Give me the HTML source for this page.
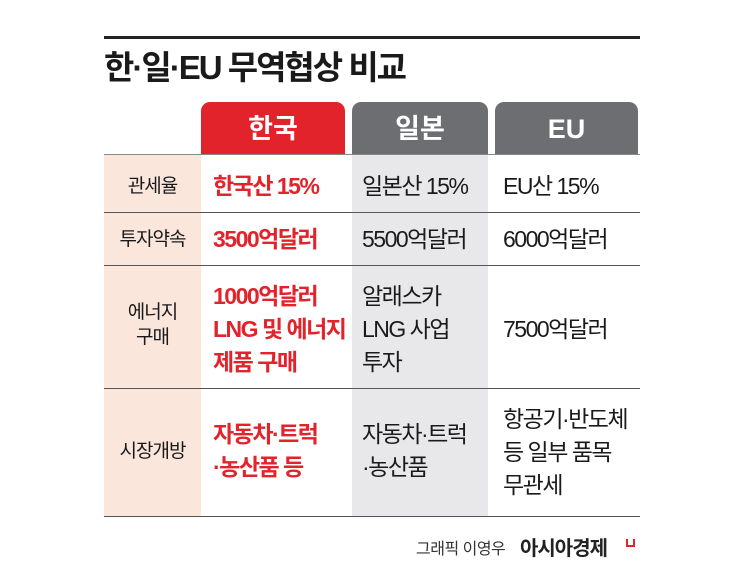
<!DOCTYPE html>
<html><head><meta charset="utf-8"><style>
body{margin:0;width:745px;height:588px;background:#fff;position:relative;overflow:hidden;font-family:"Liberation Sans","Noto Sans CJK KR",sans-serif;color:#1a1a1a}
.a{position:absolute}
.tab{position:absolute;top:102px;height:52px;border-radius:9px 9px 0 0;color:#fff;font-size:27px;font-weight:bold;text-align:center;line-height:54px}
.hl{position:absolute;left:104px;width:536px;height:1px;background:#555}
.t{position:absolute;font-size:23px;line-height:33px;letter-spacing:-1.5px;white-space:nowrap}
.r{color:#e3232b;font-weight:bold}
.lb{position:absolute;left:104px;width:97px;text-align:center;font-size:19px;line-height:25px;letter-spacing:-1px}
</style></head><body>
<div class="a" style="left:104px;top:36px;width:536px;height:3px;background:#222"></div>
<div class="a" style="left:104px;top:48px;font-size:33px;font-weight:bold;letter-spacing:-2px;line-height:40px">한·일·EU 무역협상 비교</div>
<div class="tab" style="left:201px;width:144px;background:#e3232b">한국</div>
<div class="tab" style="left:352px;width:136px;background:#6d6e71">일본</div>
<div class="tab" style="left:495px;width:143px;background:#6d6e71">EU</div>
<div class="a" style="left:104px;top:154px;width:97px;height:362px;background:#fbe6dc"></div>
<div class="a" style="left:352px;top:154px;width:136px;height:362px;background:#e8e8ea"></div>
<div class="hl" style="top:154px;background:#888"></div>
<div class="hl" style="top:212px"></div>
<div class="hl" style="top:265px"></div>
<div class="hl" style="top:388px"></div>
<div class="hl" style="top:516px"></div>

<div class="lb" style="top:174px">관세율</div>
<div class="lb" style="top:227px">투자약속</div>
<div class="lb" style="top:300px">에너지<br>구매</div>
<div class="lb" style="top:439px">시장개방</div>

<div class="t r" style="left:213px;top:170px">한국산 15%</div>
<div class="t" style="left:362px;top:170px">일본산 15%</div>
<div class="t" style="left:503px;top:170px">EU산 15%</div>
<div class="t r" style="left:213px;top:223px">3500억달러</div>
<div class="t" style="left:362px;top:223px">5500억달러</div>
<div class="t" style="left:503px;top:223px">6000억달러</div>
<div class="t r" style="left:213px;top:280px">1000억달러<br>LNG 및 에너지<br>제품 구매</div>
<div class="t" style="left:362px;top:280px">알래스카<br>LNG 사업<br>투자</div>
<div class="t" style="left:503px;top:313px">7500억달러</div>
<div class="t r" style="left:213px;top:418px">자동차·트럭<br>·농산품 등</div>
<div class="t" style="left:362px;top:418px">자동차·트럭<br>·농산품</div>
<div class="t" style="left:503px;top:403px">항공기·반도체<br>등 일부 품목<br>무관세</div>

<div class="a" style="left:416px;top:539px;font-size:16px;letter-spacing:-0.5px;line-height:22px;color:#333">그래픽 이영우</div>
<div class="a" style="left:520px;top:536px;font-size:20px;font-weight:bold;letter-spacing:-1px;line-height:26px;color:#222">아시아경제</div>
<div class="a" style="left:626px;top:539px;width:5px;height:6px;border:2px solid #e3232b;border-top:none"></div>
</body></html>
